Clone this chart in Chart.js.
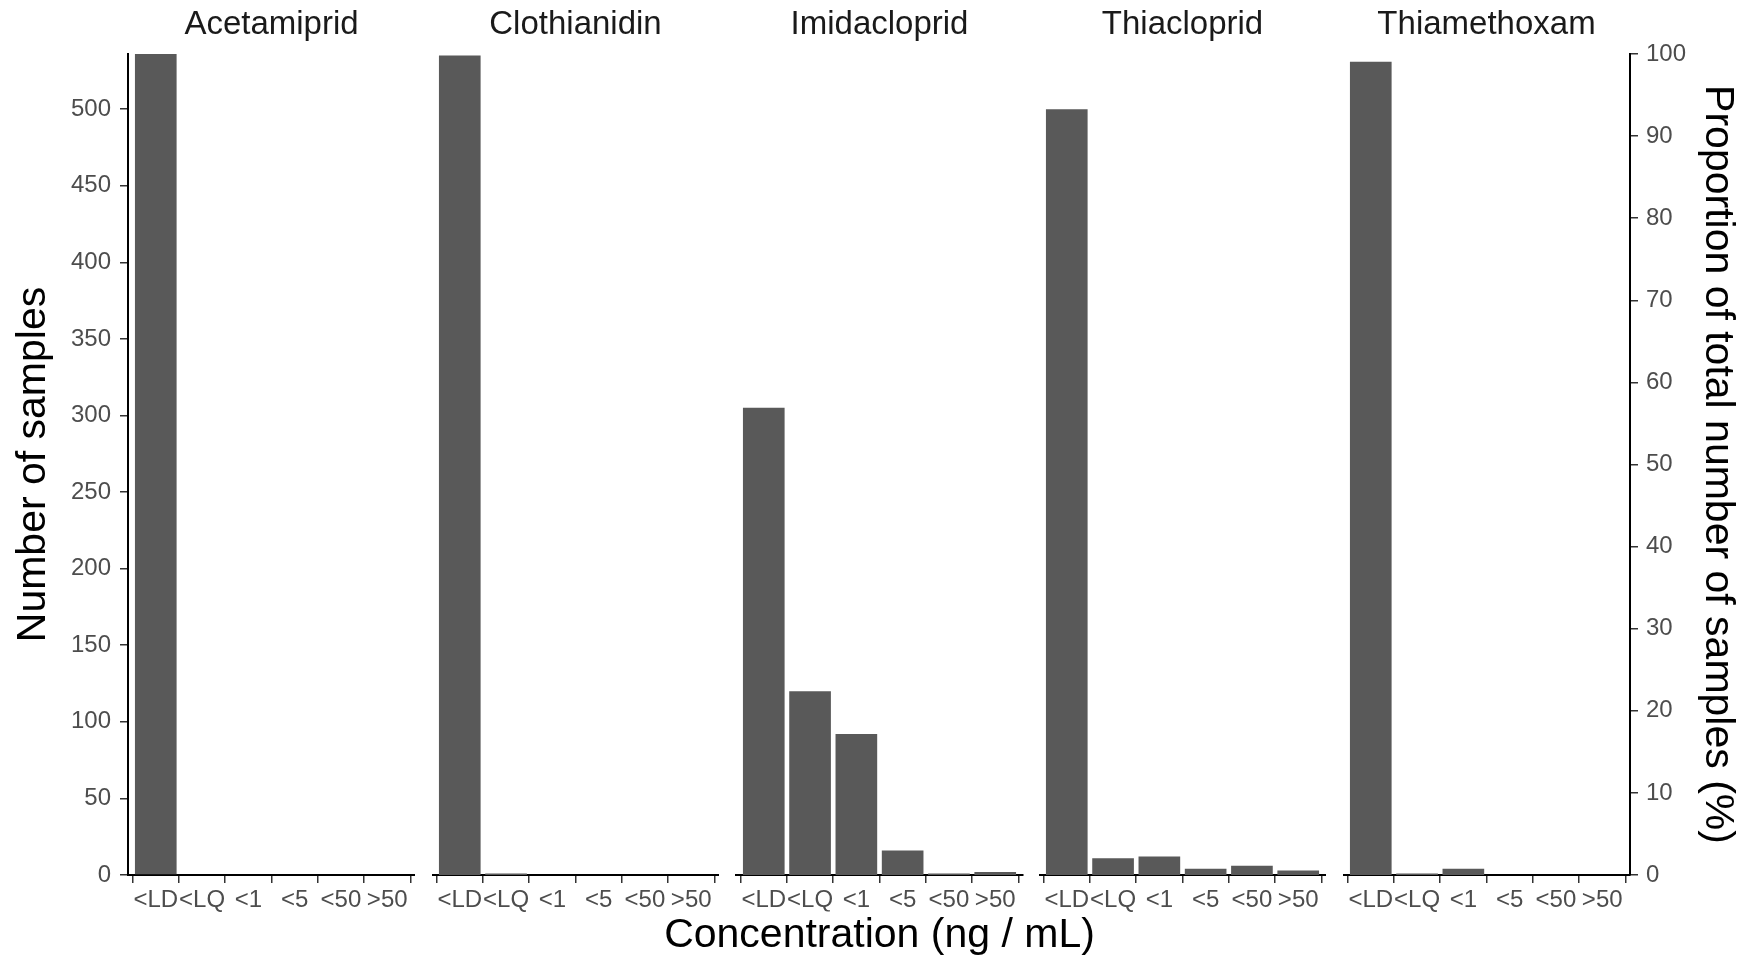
<!DOCTYPE html>
<html>
<head>
<meta charset="utf-8">
<title>Neonicotinoid concentrations</title>
<script src="https://cdn.jsdelivr.net/npm/chart.js@4/dist/chart.umd.min.js"></script>
<style>
    body { margin: 0; background: #fff; }
    #wrap { position: relative; width: 1753px; height: 970px; background: #fff; overflow: hidden; }
    #wrap canvas { position: absolute; top: 0; }
</style>
</head>
<body>
<div id="wrap"></div>
<script>
// Chart data - one facet per pesticide
const CATEGORIES = ['<LD', '<LQ', '<1', '<5', '<50', '>50'];
const PESTICIDES = ['Acetamiprid', 'Clothianidin', 'Imidacloprid', 'Thiacloprid', 'Thiamethoxam'];

const ACETAMIPRID = [536, 0, 0, 0, 0, 0];
const CLOTHIANIDIN = [535, 1, 0, 0, 0, 0];
const IMIDACLOPRID = [305, 120, 92, 16, 1, 2];
const THIACLOPRID = [500, 11, 12, 4, 6, 3];
const THIAMETHOXAM = [531, 1, 4, 0, 0, 0];

const TOTAL_SAMPLES = 536;
const COUNT_TICKS = [0, 50, 100, 150, 200, 250, 300, 350, 400, 450, 500];
const PERCENT_TICKS = [0, 10, 20, 30, 40, 50, 60, 70, 80, 90, 100];

const SERIES = [ACETAMIPRID, CLOTHIANIDIN, IMIDACLOPRID, THIACLOPRID, THIAMETHOXAM];

// Layout of the facets (page pixels)
const PANEL_LEFT = [128, 432, 736, 1039, 1343];
const PANEL_WIDTH = 287;
const PAGE_W = 1753;
const PAGE_H = 970;
const X_AXIS_H = 95;
const SIDE_PAD = 110;   // extra room around the middle facet for the x title

const FONT = 'Liberation Sans, Arial, Helvetica, sans-serif';
const BAR_GREY = '#595959';
const TICK_GREY = '#4d4d4d';

Chart.defaults.font.family = FONT;

function makeCanvas(left, width) {
    const canvas = document.createElement('canvas');
    canvas.width = width;
    canvas.height = PAGE_H;
    canvas.style.left = left + 'px';
    canvas.style.width = width + 'px';
    canvas.style.height = PAGE_H + 'px';
    document.getElementById('wrap').appendChild(canvas);
    return canvas;
}

// Invisible axis that only reserves horizontal room
function spacerAxis(position) {
    return {
        type: 'linear',
        position: position,
        display: true,
        ticks: { display: false },
        grid: { display: false, drawTicks: false },
        border: { display: false },
        title: { display: false },
        afterFit: s => { s.width = SIDE_PAD; }
    };
}

// Build one facet chart
function buildPanel(i) {
    const isFirst = i === 0;
    const isLast = i === PESTICIDES.length - 1;
    const isMiddle = i === 2;

    let left = isFirst ? 0 : PANEL_LEFT[i];
    let right = isLast ? PAGE_W : PANEL_LEFT[i] + PANEL_WIDTH;
    if (isMiddle) {
        left -= SIDE_PAD;
        right += SIDE_PAD;
    }
    const canvas = makeCanvas(left, right - left);

    // subtitle box: padding bottom + line height of a 41px font
    const xTitleH = 9.4 + 41 * 1.2;

    const scales = {
        x: {
            type: 'linear',
            min: -0.6,
            max: CATEGORIES.length - 0.4,
            offset: false,
            afterBuildTicks: s => { s.ticks = CATEGORIES.map((c, k) => ({ value: k })); },
            afterFit: s => { s.height = isMiddle ? X_AXIS_H - xTitleH : X_AXIS_H; },
            ticks: {
                callback: v => CATEGORIES[v],
                autoSkip: false,
                maxRotation: 0,
                minRotation: 0,
                padding: 3,
                color: TICK_GREY,
                font: { size: 24 }
            },
            grid: { drawOnChartArea: false, drawTicks: true, tickLength: 8, color: '#333', lineWidth: 1.5 },
            border: { display: true, color: '#000', width: 2 }
        },
        y: {
            type: 'linear',
            display: isFirst,
            min: 0,
            max: TOTAL_SAMPLES,
            afterBuildTicks: s => { s.ticks = COUNT_TICKS.map(v => ({ value: v })); },
            afterFit: s => { if (isFirst) s.width = PANEL_LEFT[0]; },
            ticks: { padding: 9, color: TICK_GREY, font: { size: 24 } },
            grid: { drawOnChartArea: false, drawTicks: true, tickLength: 8, color: '#333', lineWidth: 1.5 },
            border: { display: true, color: '#000', width: 2 },
            title: {
                display: true,
                text: 'Number of samples',
                color: '#000',
                font: { size: 41 },
                padding: { top: 9, bottom: 0 }
            }
        }
    };

    if (isMiddle) {
        scales.padL = spacerAxis('left');
        scales.padR = spacerAxis('right');
    }

    // Secondary axis: share of all samples
    if (isLast) {
        scales.y1 = {
            type: 'linear',
            position: 'right',
            min: 0,
            max: 100,
            afterBuildTicks: s => { s.ticks = PERCENT_TICKS.map(v => ({ value: v })); },
            afterFit: s => { s.width = PAGE_W - (PANEL_LEFT[i] + PANEL_WIDTH); },
            ticks: { padding: 8, color: TICK_GREY, font: { size: 24 } },
            grid: { drawOnChartArea: false, drawTicks: true, tickLength: 8, color: '#333', lineWidth: 1.5 },
            border: { display: true, color: '#000', width: 2 },
            title: {
                display: true,
                text: 'Proportion of total number of samples (%)',
                color: '#000',
                font: { size: 41 },
                padding: { top: 11, bottom: 0 }
            }
        };
    }

    new Chart(canvas.getContext('2d'), {
        type: 'bar',
        data: {
            datasets: [{
                label: PESTICIDES[i],
                data: SERIES[i].map((v, k) => ({ x: k, y: v })),
                backgroundColor: BAR_GREY,
                borderWidth: 0,
                categoryPercentage: 1,
                barPercentage: 0.9,
                yAxisID: 'y'
            }]
        },
        options: {
            responsive: false,
            animation: false,
            devicePixelRatio: 1,
            layout: { padding: 0 },
            plugins: {
                legend: { display: false },
                tooltip: { enabled: false },
                title: {
                    display: true,
                    text: PESTICIDES[i],
                    fullSize: false,
                    color: '#1a1a1a',
                    font: { size: 33, weight: 'normal' },
                    padding: { top: 5, bottom: 9.4 }
                },
                // shared x axis title, drawn under the middle facet
                subtitle: {
                    display: isMiddle,
                    text: 'Concentration (ng / mL)',
                    position: 'bottom',
                    fullSize: true,
                    color: '#000',
                    font: { size: 41, weight: 'normal' },
                    padding: { top: 0, bottom: 9.4 }
                }
            },
            scales: scales
        }
    });
}

document.addEventListener('DOMContentLoaded', () => {
    PESTICIDES.forEach((name, i) => buildPanel(i));
});
</script>
</body>
</html>
